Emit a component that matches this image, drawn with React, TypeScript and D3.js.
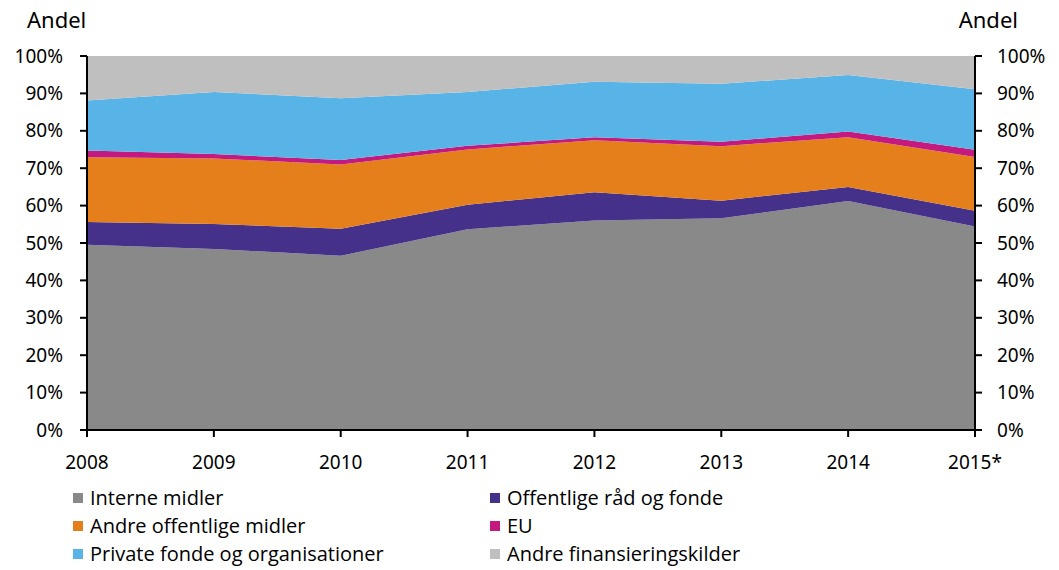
import React from "react";
import * as d3 from "d3";

const years = ["2008", "2009", "2010", "2011", "2012", "2013", "2014", "2015*"];
const seriesNames = [
  "Interne midler",
  "Offentlige råd og fonde",
  "Andre offentlige midler",
  "EU",
  "Private fonde og organisationer",
  "Andre finansieringskilder",
];
const interne = [49.5, 48.4, 46.6, 53.7, 56.0, 56.6, 61.2, 54.4];
const offRaad = [6.1, 6.7, 7.2, 6.5, 7.6, 4.7, 3.8, 4.2];
const andreOff = [17.3, 17.5, 17.2, 14.8, 13.9, 14.6, 13.3, 14.4];
const eu = [1.8, 1.2, 1.2, 1.0, 0.8, 1.2, 1.5, 1.9];
const privat = [13.4, 16.6, 16.5, 14.4, 14.8, 15.5, 15.1, 16.2];
const andreFin = [11.9, 9.6, 11.3, 9.6, 6.9, 7.4, 5.1, 8.9];
const colors = ["#898989", "#46318a", "#e57f1c", "#c4197f", "#58b3e6", "#bfbfbf"];
const yTicks = [0, 10, 20, 30, 40, 50, 60, 70, 80, 90, 100];

const legendOrder = [0, 1, 2, 3, 4, 5];

export default function App() {
  const W = 1059, H = 570;
  const left = 87, right = 975, top = 56, bottom = 430;
  const x = d3.scalePoint<string>().domain(years).range([left, right]);
  const y = d3.scaleLinear().domain([0, 100]).range([bottom, top]);
  const all = [interne, offRaad, andreOff, eu, privat, andreFin];
  const rows = years.map((yr, i) => {
    const r: any = { year: yr };
    seriesNames.forEach((s, k) => (r[s] = all[k][i]));
    return r;
  });
  const stacked = d3.stack<any>().keys(seriesNames)(rows);
  const area = d3
    .area<any>()
    .x((d) => x(d.data.year)!)
    .y0((d) => y(d[0]))
    .y1((d) => y(Math.min(100, d[1])));
  const tickFont = "'Noto Sans', 'DejaVu Sans', sans-serif";
  const legFont = "'Open Sans', sans-serif";
  return (
    <svg width={W} height={H} style={{ position: "absolute", left: 0, top: 0 }}>
      <rect width={W} height={H} fill="#fff" />
      {stacked.map((s, k) => (
        <path key={k} d={area(s as any) || ""} fill={colors[k]} />
      ))}
      <line x1={left} x2={left} y1={top} y2={bottom} stroke="#000" strokeWidth={2} />
      <line x1={right} x2={right} y1={top} y2={bottom} stroke="#000" strokeWidth={2} />
      <line x1={left} x2={right} y1={bottom} y2={bottom} stroke="#000" strokeWidth={2} />
      {yTicks.map((t) => (
        <g key={t}>
          <line x1={left - 7} x2={left} y1={y(t)} y2={y(t)} stroke="#000" strokeWidth={2} />
          <line x1={right} x2={right + 7} y1={y(t)} y2={y(t)} stroke="#000" strokeWidth={2} />
          <text x={left - 24} y={y(t)} dy="0.35em" textAnchor="end" fontFamily={tickFont} fontSize={19} fill="#000">
            {t}%
          </text>
          <text x={right + 22} y={y(t)} dy="0.35em" textAnchor="start" fontFamily={tickFont} fontSize={19} fill="#000">
            {t}%
          </text>
        </g>
      ))}
      {years.map((yr) => (
        <g key={yr}>
          <line x1={x(yr)} x2={x(yr)} y1={bottom} y2={bottom + 7} stroke="#000" strokeWidth={2} />
          <text x={x(yr)} y={462} dy="0.35em" textAnchor="middle" fontFamily={tickFont} fontSize={19} fill="#000">
            {yr}
          </text>
        </g>
      ))}
      <text x={27} y={20} dy="0.35em" fontFamily={tickFont} fontSize={22} fill="#000">Andel</text>
      <text x={1018} y={20} dy="0.35em" textAnchor="end" fontFamily={tickFont} fontSize={22} fill="#000">Andel</text>
      {legendOrder.map((k, i) => {
        const col = i % 2;
        const row = Math.floor(i / 2);
        const lx = col === 0 ? 73 : 490;
        const ly = 498 + row * 28;
        return (
          <g key={k}>
            <rect x={lx} y={ly - 5} width={10} height={10} fill={colors[k]} />
            <text x={lx + 17} y={ly} dy="0.35em" fontFamily={legFont} fontSize={20} fill="#000">
              {seriesNames[k]}
            </text>
          </g>
        );
      })}
    </svg>
  );
}
